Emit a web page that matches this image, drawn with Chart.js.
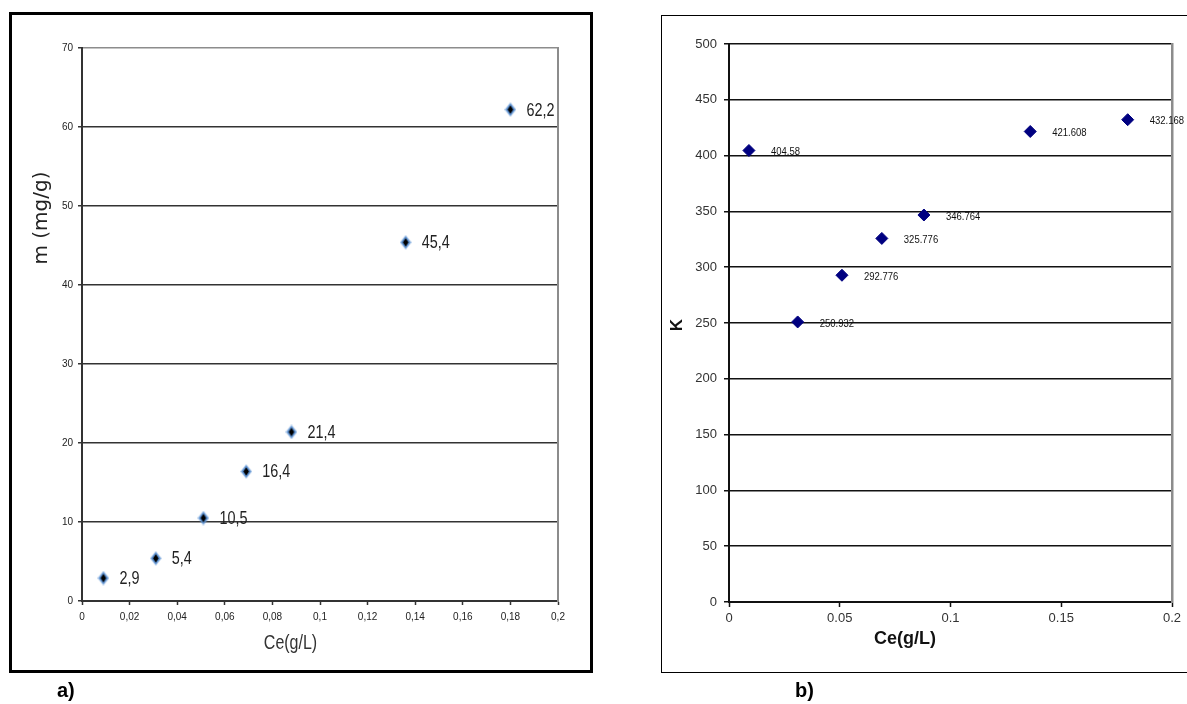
<!DOCTYPE html>
<html>
<head>
<meta charset="utf-8">
<script src="https://cdn.jsdelivr.net/npm/chart.js@4"></script>
<style>
html,body{margin:0;padding:0;background:#fff;width:1187px;height:704px;overflow:hidden;position:relative;}
#frameA{position:absolute;left:9px;top:12px;width:578px;height:655px;border:3px solid #000;}
#frameB{position:absolute;left:661px;top:15px;width:600px;height:656px;border:1px solid #000;}
canvas{position:absolute;top:0;}
#chartA{left:0;}
#chartB{left:600px;}
.lab{position:absolute;top:677px;font:bold 20px 'Liberation Sans',Arial,sans-serif;line-height:26px;color:#000;}
</style>
</head>
<body>
<div id="frameA"></div>
<div id="frameB"></div>
<canvas id="chartA" width="600" height="680"></canvas>
<canvas id="chartB" width="587" height="680"></canvas>
<div class="lab" style="left:57px">a)</div>
<div class="lab" style="left:795px">b)</div>
<script>
// ---- data ----
const ceValues = [0.009, 0.031, 0.051, 0.069, 0.088, 0.136, 0.18];
const mValues = [2.9, 5.4, 10.5, 16.4, 21.4, 45.4, 62.2];
const kValues = [404.58, 250.932, 292.776, 325.776, 346.764, 421.608, 432.168];
const mLabels = ['2,9', '5,4', '10,5', '16,4', '21,4', '45,4', '62,2'];
const kLabels = ['404.58', '250.932', '292.776', '325.776', '346.764', '421.608', '432.168'];
const xTickLabelsA = ['0', '0,02', '0,04', '0,06', '0,08', '0,1', '0,12', '0,14', '0,16', '0,18', '0,2'];
const xTickLabelsB = ['0', '0.05', '0.1', '0.15', '0.2'];
const yTickLabelsA = ['0', '10', '20', '30', '40', '50', '60', '70'];
const yTickLabelsB = ['0', '50', '100', '150', '200', '250', '300', '350', '400', '450', '500'];

// ---- plugins ----
const pointLabels = {
  id: 'pointLabels',
  afterDatasetsDraw(chart, args, opts) {
    const ctx = chart.ctx;
    const meta = chart.getDatasetMeta(0);
    const sx = opts.scaleX || 1;
    meta.data.forEach((pt, i) => {
      ctx.save();
      ctx.font = opts.font;
      ctx.fillStyle = opts.color;
      ctx.textAlign = 'left';
      ctx.textBaseline = 'middle';
      ctx.translate(pt.x + opts.dx, pt.y + opts.dy);
      ctx.scale(sx, 1);
      ctx.fillText(opts.labels[i], 0, 0);
      ctx.restore();
    });
  }
};
const axisTitles = {
  id: 'axisTitles',
  afterDraw(chart, args, opts) {
    const ctx = chart.ctx;
    (opts.items || []).forEach(t => {
      ctx.save();
      ctx.font = t.font;
      ctx.fillStyle = t.color;
      ctx.textAlign = 'center';
      ctx.textBaseline = 'middle';
      ctx.translate(t.x, t.y);
      if (t.rotate) ctx.rotate(-Math.PI / 2);
      ctx.scale(t.scaleX || 1, 1);
      ctx.fillText(t.text, 0, 0);
      ctx.restore();
    });
  }
};

// diamond marker for chart a)
function makeDiamond() {
  const c = document.createElement('canvas');
  c.width = 12; c.height = 15;
  const g = c.getContext('2d');
  function d(cx, cy, hw, hh, col) {
    g.beginPath();
    g.moveTo(cx, cy - hh); g.lineTo(cx + hw, cy); g.lineTo(cx, cy + hh); g.lineTo(cx - hw, cy);
    g.closePath(); g.fillStyle = col; g.fill();
  }
  d(6, 7.5, 6, 7.5, 'rgba(120,165,220,0.55)');
  d(6, 7.5, 4.8, 6.2, '#5a8fd0');
  d(6, 7.5, 2.8, 4.2, '#000');
  return c;
}

const arial = "'Liberation Sans',Arial,sans-serif";

new Chart(document.getElementById('chartA'), {
  type: 'scatter',
  data: {
    datasets: [{
      data: ceValues.map((x, i) => ({ x: x, y: mValues[i] })),
      pointStyle: makeDiamond(),
      pointRadius: 6,
      showLine: false
    }]
  },
  options: {
    responsive: false,
    animation: false,
    layout: { padding: { left: 0, top: 48, right: 42, bottom: 0 } },
    plugins: {
      legend: { display: false },
      tooltip: { enabled: false },
      pointLabels: { labels: mLabels, font: '18px ' + arial, color: '#222', dx: 16, dy: 1, scaleX: 0.8 },
      axisTitles: { items: [
        { text: 'Ce(g/L)', x: 290.5, y: 643, font: '20px ' + arial, color: '#333', scaleX: 0.8 },
        { text: 'm (mg/g)', x: 41.5, y: 218, rotate: true, font: "20px 'DejaVu Sans',sans-serif", color: '#222' }
      ] }
    },
    scales: {
      x: {
        type: 'linear', min: 0, max: 0.2, position: 'bottom',
        ticks: { stepSize: 0.02, autoSkip: false, maxRotation: 0, padding: 6, color: '#222',
          font: { family: arial, size: 10 },
          callback: (v, i) => xTickLabelsA[i] !== undefined ? xTickLabelsA[i] : String(v) },
        grid: { drawOnChartArea: false, drawTicks: true, tickLength: 4, tickColor: '#333', tickWidth: 1.5 },
        border: { color: '#333', width: 2 },
        afterFit(s) { s.height = 79; }
      },
      y: {
        type: 'linear', min: 0, max: 70,
        ticks: { stepSize: 10, padding: 5, color: '#222', font: { family: arial, size: 10 },
          callback: (v, i) => yTickLabelsA[i] !== undefined ? yTickLabelsA[i] : String(v) },
        grid: { color: c => (c.tick && c.tick.value === 70) ? '#8c8c8c' : '#333', lineWidth: 1.5,
          tickLength: 4, tickColor: '#333' },
        border: { color: '#333', width: 2 },
        afterFit(s) { s.width = 82; }
      },
      y2: {
        type: 'linear', position: 'right', min: 0, max: 70,
        ticks: { display: false },
        grid: { drawOnChartArea: false, drawTicks: false },
        border: { color: '#8c8c8c', width: 2 },
        afterFit(s) { s.width = 0; }
      }
    }
  },
  plugins: [pointLabels, axisTitles]
});

new Chart(document.getElementById('chartB'), {
  type: 'scatter',
  data: {
    datasets: [{
      data: ceValues.map((x, i) => ({ x: x, y: kValues[i] })),
      pointStyle: 'rectRot',
      pointRadius: 6,
      backgroundColor: '#000080',
      borderColor: '#000080',
      borderWidth: 1,
      showLine: false
    }]
  },
  options: {
    responsive: false,
    animation: false,
    layout: { padding: { left: 0, top: 44, right: 15, bottom: 0 } },
    plugins: {
      legend: { display: false },
      tooltip: { enabled: false },
      pointLabels: { labels: kLabels, font: '10px ' + arial, color: '#111', dx: 22, dy: 2, scaleX: 0.95 },
      axisTitles: { items: [
        { text: 'Ce(g/L)', x: 305, y: 639, font: 'bold 18px ' + arial, color: '#111' },
        { text: 'K', x: 77, y: 325, rotate: true, font: 'bold 17px ' + arial, color: '#111' }
      ] }
    },
    scales: {
      x: {
        type: 'linear', min: 0, max: 0.2, position: 'bottom',
        ticks: { stepSize: 0.05, autoSkip: false, maxRotation: 0, padding: 4, color: '#333',
          font: { family: arial, size: 13 },
          callback: (v, i) => xTickLabelsB[i] !== undefined ? xTickLabelsB[i] : String(v) },
        grid: { drawOnChartArea: false, drawTicks: true, tickLength: 5, tickColor: '#111', tickWidth: 1.5 },
        border: { color: '#111', width: 2 },
        afterFit(s) { s.height = 78; }
      },
      y: {
        type: 'linear', min: 0, max: 500,
        ticks: { stepSize: 50, padding: 7, color: '#333', font: { family: arial, size: 13 },
          callback: (v, i) => yTickLabelsB[i] !== undefined ? yTickLabelsB[i] : String(v) },
        grid: { color: '#111', lineWidth: 1.5, tickLength: 5, tickColor: '#111' },
        border: { color: '#111', width: 2 },
        afterFit(s) { s.width = 129; }
      },
      y2: {
        type: 'linear', position: 'right', min: 0, max: 500,
        ticks: { display: false },
        grid: { drawOnChartArea: false, drawTicks: false },
        border: { color: '#8c8c8c', width: 2.5 },
        afterFit(s) { s.width = 0; }
      }
    }
  },
  plugins: [pointLabels, axisTitles]
});
</script>
</body>
</html>
